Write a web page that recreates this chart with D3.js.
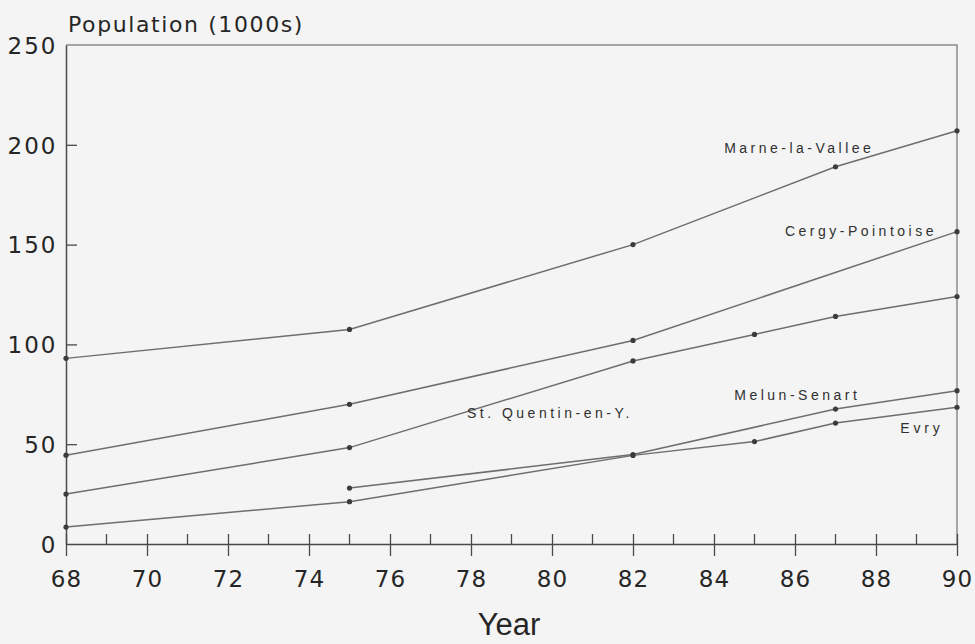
<!DOCTYPE html>
<html lang="en">
<head>
    <meta charset="UTF-8">
    <title>New towns population</title>
    <script src="https://d3js.org/d3.v7.min.js"></script>
    <style>
        body { margin: 0; background: #f4f4f4; }
        svg { display: block; }
    </style>
</head>
<body>
    <div id="chart"></div>
    <script>
        // survey years and population (1000s) per new town, null = no reading
        var years = [68, 75, 82, 85, 87, 90];
        var marne   = [93,  107.5, 150,  null, 189,  207];
        var cergy   = [44.5, 70,   102,  null, null, 156.5];
        var quentin = [25,  48.3,  91.7, 105,  114,  124];
        var melun   = [null, 28,   44.8, null, 67.6, 76.8];
        var evry    = [8.5, 21.2,  44.4, 51.3, 60.6, 68.5];

        var seriesNames = ["Marne-la-Vallee", "Cergy-Pointoise", "St. Quentin-en-Y.", "Melun-Senart", "Evry"];
        var seriesValues = [marne, cergy, quentin, melun, evry];
        // where each name sits, in year / population units
        var labelYear = [84.25, 85.75, 77.9, 84.5, 88.6];
        var labelValue = [198.5, 157, 65.5, 74.6, 58];

        var yTicks = [0, 50, 100, 150, 200, 250];
        var xTicks = d3.range(68, 91, 2);
        var xMinor = d3.range(69, 90, 2);

        var width = 975, height = 644;
        var svg = d3.select("#chart").append("svg")
            .attr("width", width)
            .attr("height", height);

        var x = d3.scaleLinear().domain([68, 90]).range([66, 957]);
        var y = d3.scaleLinear().domain([0, 250]).range([544, 45]);

        var axisColor = "#4a4a4a";

        // frame top and right
        svg.append("path")
            .attr("d", "M" + x(68) + "," + y(250) + "H" + x(90) + "V" + y(0))
            .attr("fill", "none")
            .attr("stroke", "#8a8a8a")
            .attr("stroke-width", 1.5);

        // x axis: major ticks cross the line, minor ticks only inside
        var xAxis = d3.axisBottom(x).tickValues(xTicks).tickSize(12).tickSizeOuter(0)
            .tickFormat(d3.format("d"));
        var gx = svg.append("g")
            .attr("transform", "translate(0," + y(0) + ")")
            .call(xAxis);
        gx.select(".domain").attr("stroke", axisColor).attr("stroke-width", 1.5);
        gx.selectAll(".tick line").attr("y1", -10).attr("stroke", axisColor).attr("stroke-width", 1.3);
        gx.selectAll(".tick text")
            .attr("y", 43).attr("dy", 0)
            .attr("fill", "#262626")
            .style("font-family", "'DejaVu Sans', sans-serif")
            .style("font-size", "23px")
            .style("letter-spacing", "1px");
        gx.selectAll(".minor").data(xMinor).enter().append("line")
            .attr("class", "minor")
            .attr("x1", function(d) { return x(d); })
            .attr("x2", function(d) { return x(d); })
            .attr("y1", -10).attr("y2", 0)
            .attr("stroke", axisColor).attr("stroke-width", 1.3);

        // y axis with ticks pointing into the plot
        var yAxis = d3.axisLeft(y).tickValues(yTicks).tickSize(0).tickSizeOuter(0);
        var gy = svg.append("g")
            .attr("transform", "translate(" + x(68) + ",0)")
            .call(yAxis);
        gy.select(".domain").attr("stroke", axisColor).attr("stroke-width", 1.5);
        gy.selectAll(".tick line")
            .attr("x2", function(d) { return (d > 0 && d < 250) ? 11 : 0; })
            .attr("stroke", axisColor).attr("stroke-width", 1.3);
        gy.selectAll(".tick text")
            .attr("x", -8.5).attr("dy", "0.36em")
            .attr("fill", "#262626")
            .style("font-family", "'DejaVu Sans', sans-serif")
            .style("font-size", "23px")
            .style("letter-spacing", "2px");
        svg.selectAll(".domain").attr("d", function() { return d3.select(this).attr("d"); });

        // axis titles
        svg.append("text")
            .attr("x", 68).attr("y", 32)
            .attr("fill", "#262626")
            .style("font-family", "'DejaVu Sans', sans-serif")
            .style("font-size", "22px")
            .style("letter-spacing", "1.6px")
            .text("Population (1000s)");
        svg.append("text")
            .attr("x", 509).attr("y", 635)
            .attr("text-anchor", "middle")
            .attr("fill", "#262626")
            .style("font-family", "'Liberation Sans', Arial, sans-serif")
            .style("font-size", "31px")
            .text("Year");

        // lines and dots
        var line = d3.line()
            .x(function(d) { return x(d.year); })
            .y(function(d) { return y(d.value); });

        seriesValues.forEach(function(vals, i) {
            var pts = [];
            vals.forEach(function(v, j) {
                if (v !== null) pts.push({year: years[j], value: v});
            });
            svg.append("path")
                .datum(pts)
                .attr("d", line)
                .attr("fill", "none")
                .attr("stroke", "#6e6e6e")
                .attr("stroke-width", 1.5);
            svg.selectAll(".dot" + i).data(pts).enter().append("circle")
                .attr("class", "dot" + i)
                .attr("cx", function(d) { return x(d.year); })
                .attr("cy", function(d) { return y(d.value); })
                .attr("r", 2.6)
                .attr("fill", "#3c3c3c");
        });

        // series names
        svg.selectAll(".name").data(seriesNames).enter().append("text")
            .attr("class", "name")
            .attr("x", function(d, i) { return x(labelYear[i]); })
            .attr("y", function(d, i) { return y(labelValue[i]); })
            .attr("dy", "0.35em")
            .attr("fill", "#303030")
            .style("font-family", "'Liberation Sans', Arial, sans-serif")
            .style("font-size", "14px")
            .style("letter-spacing", function(d) { return d === "Evry" ? "3.8px" : "3.5px"; })
            .text(function(d) { return d; });
    </script>
</body>
</html>
